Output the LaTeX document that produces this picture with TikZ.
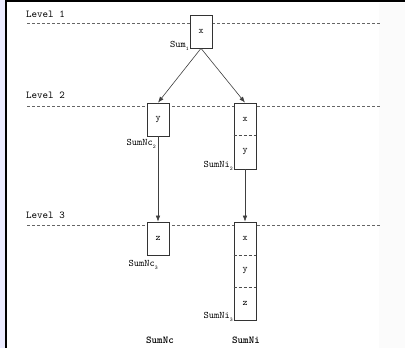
\documentclass[tikz,border=0pt]{standalone}
\usepackage{fontspec}
\usetikzlibrary{arrows.meta}
\newcommand\lowsub[1]{\raisebox{-2.5pt}{\fontsize{5.5}{6}\selectfont #1}}
\begin{document}
\begin{tikzpicture}[x=1pt,y=-1pt,
  every node/.style={font=\ttfamily\fontsize{9.5}{10}\selectfont, inner sep=0pt},
  box/.style={draw=black!80, line width=0.7pt, minimum width=22pt, fill=white},
  lvltxt/.style={anchor=west, font=\ttfamily\fontsize{10.5}{11}\selectfont},
  lvl/.style={draw=black!60, dash pattern=on 3pt off 2pt, line width=0.6pt},
  conn/.style={draw=black!75, line width=0.6pt, -{Latex[length=6pt,width=4.5pt]}},
  lab/.style={anchor=east, font=\ttfamily\fontsize{10}{11}\selectfont},
  sep/.style={draw=black!70, dash pattern=on 3pt off 2pt, line width=0.6pt},
  total/.style={font=\ttfamily\bfseries\fontsize{10.5}{11}\selectfont}]
\useasboundingbox (0,0) rectangle (405,348);
\fill[white] (0,0) rectangle (405,348);
\fill[blue!8] (0,0) rectangle (5,348);
\fill[black!1.5] (379,3) rectangle (405,348);
\draw[line width=2pt] (6,0) -- (6,348);
\draw[line width=2pt] (5,1) -- (405,1);
% level labels and dashed lines
\node[lvltxt] (t1) at (26,14) {Level 1};
\node[lvltxt] (t2) at (26,95) {Level 2};
\node[lvltxt] (t3) at (26,215) {Level 3};
\coordinate (d1a) at (27,23);  \coordinate (d1b) at (380,23);
\coordinate (d2a) at (27,106); \coordinate (d2b) at (380,106);
\coordinate (d3a) at (27,225); \coordinate (d3b) at (380,225);
\draw[lvl] (d1a) -- (d1b);
\draw[lvl] (d2a) -- (d2b);
\draw[lvl] (d3a) -- (d3b);
% level 1
\node[box, minimum height=33pt] (s1) at (201,31.5) {x};
% level 2
\node[box, minimum height=33pt] (nc2) at (158,119.5) {y};
\node[box, minimum height=66pt] (ni2) at (245,136) {};
\node (ni2x) at (245,119) {x};
\node (ni2y) at (245,152) {y};
\coordinate (sp2) at (245,135.5);
\draw[sep] (ni2.west |- sp2) -- (ni2.east |- sp2);
% level 3
\node[box, minimum height=33pt] (nc3) at (158,238.5) {z};
\node[box, minimum height=98pt] (ni3) at (245,271) {};
\node (ni3x) at (245,238.5) {x};
\node (ni3y) at (245,271) {y};
\node (ni3z) at (245,303.5) {z};
\coordinate (sp3a) at (245,255);
\coordinate (sp3b) at (245,287);
\draw[sep] (ni3.west |- sp3a) -- (ni3.east |- sp3a);
\draw[sep] (ni3.west |- sp3b) -- (ni3.east |- sp3b);
% connectors
\draw[conn] (s1.south) -- (nc2.north);
\draw[conn] (s1.south) -- (ni2.north);
\draw[conn] (nc2.south) -- (nc3.north);
\draw[conn] (ni2.south) -- (ni3.north);
% labels
\node[lab] (ls1) at (189,46) {Sum\lowsub{1}};
\node[lab] (lnc2) at (156,144) {SumNc\lowsub{2}};
\node[lab] (lni2) at (233,166) {SumNi\lowsub{2}};
\node[lab] (lnc3) at (158,265) {SumNc\lowsub{3}};
\node[lab] (lni3) at (233,317) {SumNi\lowsub{3}};
% totals
\node[total] (bnc) at (160,340) {SumNc};
\node[total] (bni) at (246,340) {SumNi};
\end{tikzpicture}
\end{document}
